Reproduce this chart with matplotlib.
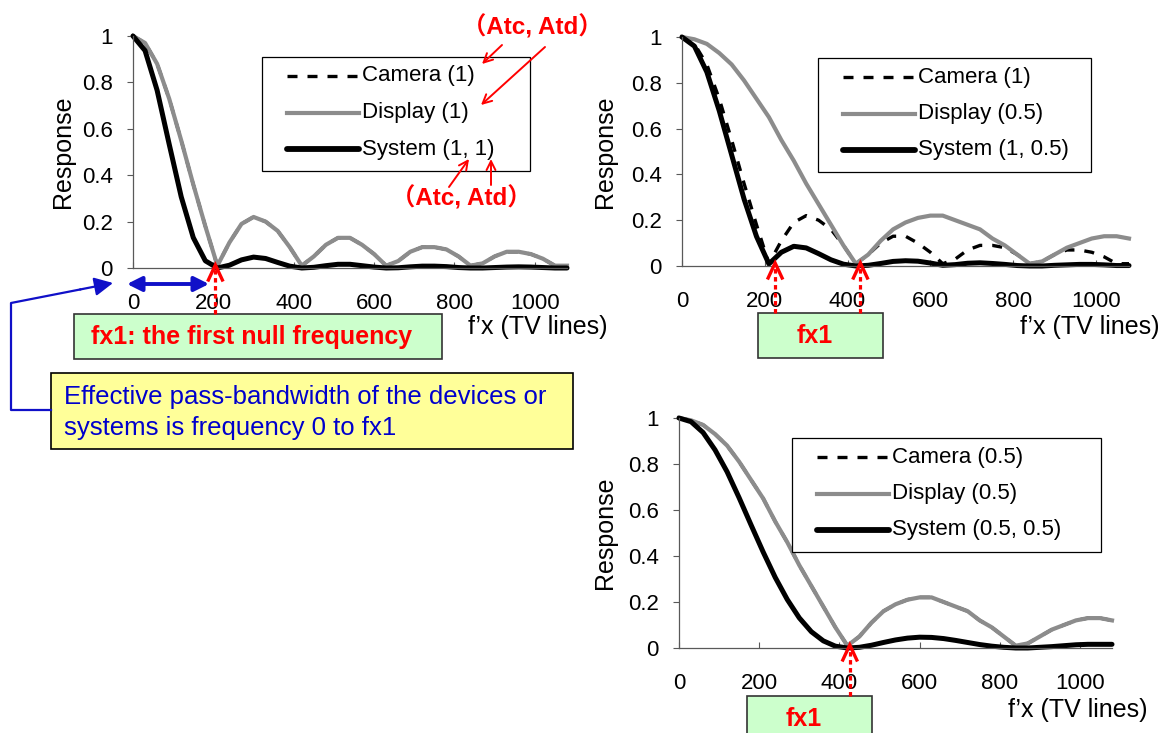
import matplotlib
matplotlib.use("Agg")
from matplotlib import pyplot as plt
from matplotlib.patches import Rectangle

W, H = 1163, 733

plt.rcParams['font.family'] = ['Liberation Sans', 'DejaVu Sans']

# spatial frequency f'x in TV lines
freq = list(range(0, 1081, 30))

# aperture 1 devices
camera_1 = [1.00, 0.97, 0.88, 0.73, 0.55, 0.36, 0.18, 0.01, 0.11, 0.19, 0.22, 0.20, 0.16,
            0.09, 0.01, 0.05, 0.10, 0.13, 0.13, 0.10, 0.06, 0.01, 0.03, 0.07, 0.09, 0.09,
            0.08, 0.05, 0.01, 0.02, 0.05, 0.07, 0.07, 0.06, 0.04, 0.01, 0.01]
display_1 = [1.00, 0.97, 0.88, 0.73, 0.55, 0.36, 0.18, 0.01, 0.11, 0.19, 0.22, 0.20, 0.16,
             0.09, 0.01, 0.05, 0.10, 0.13, 0.13, 0.10, 0.06, 0.01, 0.03, 0.07, 0.09, 0.09,
             0.08, 0.05, 0.01, 0.02, 0.05, 0.07, 0.07, 0.06, 0.04, 0.01, 0.01]
# aperture 0.5 devices
camera_05 = [1.00, 0.99, 0.97, 0.93, 0.88, 0.81, 0.73, 0.65, 0.55, 0.46, 0.36, 0.27, 0.18,
             0.09, 0.01, 0.05, 0.11, 0.16, 0.19, 0.21, 0.22, 0.22, 0.20, 0.18, 0.16, 0.12,
             0.09, 0.05, 0.01, 0.02, 0.05, 0.08, 0.10, 0.12, 0.13, 0.13, 0.12]
display_05 = [1.00, 0.99, 0.97, 0.93, 0.88, 0.81, 0.73, 0.65, 0.55, 0.46, 0.36, 0.27, 0.18,
              0.09, 0.01, 0.05, 0.11, 0.16, 0.19, 0.21, 0.22, 0.22, 0.20, 0.18, 0.16, 0.12,
              0.09, 0.05, 0.01, 0.02, 0.05, 0.08, 0.10, 0.12, 0.13, 0.13, 0.12]
# camera x display
system_1_1 = [1.000, 0.937, 0.766, 0.534, 0.307, 0.131, 0.031, 0.000, 0.012, 0.035, 0.047,
              0.041, 0.024, 0.008, 0.000, 0.003, 0.010, 0.016, 0.016, 0.010, 0.004, 0.000,
              0.001, 0.005, 0.008, 0.008, 0.006, 0.002, 0.000, 0.000, 0.002, 0.004, 0.005,
              0.004, 0.002, 0.000, 0.000]
system_1_05 = [1.000, 0.960, 0.847, 0.678, 0.485, 0.292, 0.129, 0.009, 0.060, 0.086, 0.079,
               0.054, 0.027, 0.008, 0.000, 0.003, 0.011, 0.020, 0.023, 0.021, 0.013, 0.003,
               0.006, 0.012, 0.014, 0.011, 0.007, 0.002, 0.000, 0.000, 0.003, 0.005, 0.007,
               0.007, 0.005, 0.002, 0.002]
system_05_05 = [1.000, 0.984, 0.937, 0.861, 0.766, 0.653, 0.534, 0.417, 0.307, 0.211, 0.131,
                0.071, 0.031, 0.008, 0.000, 0.003, 0.012, 0.024, 0.035, 0.043, 0.047, 0.046,
                0.041, 0.033, 0.024, 0.015, 0.008, 0.003, 0.000, 0.000, 0.003, 0.006, 0.010,
                0.014, 0.016, 0.016, 0.016]

xticks = [0, 200, 400, 600, 800, 1000]
yticks = [0, 0.2, 0.4, 0.6, 0.8, 1]
ytick_labels = ['0', '0.2', '0.4', '0.6', '0.8', '1']

RED = '#ff0000'
BLUE = '#1010c8'
GRAY = '#8c8c8c'

STYLE = {
    'camera': dict(color='black', lw=2.4, linestyle=(0, (3, 3))),
    'display': dict(color=GRAY, lw=3.0, linestyle='-'),
    'system': dict(color='black', lw=3.6, linestyle='-', solid_capstyle='round'),
}

# rect = (left, top, right, bottom) in pixels, key = legend box, nulls = fx1 marks
panels = [
    dict(rect=(133, 36, 567, 268),
         curves=[('camera', camera_1, 'Camera (1)'),
                 ('display', display_1, 'Display (1)'),
                 ('system', system_1_1, 'System (1, 1)')],
         key=(262, 57, 530, 171), nulls=[205], marker_base=314,
         tag=(74, 314, 442, 359, 'fx1: the first null frequency'),
         xtitle=(607, 327), ytitle=(63, 152)),
    dict(rect=(682, 37, 1129, 266),
         curves=[('camera', camera_1, 'Camera (1)'),
                 ('display', display_05, 'Display (0.5)'),
                 ('system', system_1_05, 'System (1, 0.5)')],
         key=(818, 58, 1091, 172), nulls=[225, 431], marker_base=313,
         tag=(758, 313, 883, 358, 'fx1'),
         xtitle=(1160, 327), ytitle=(605, 152)),
    dict(rect=(679, 418, 1112, 648),
         curves=[('camera', camera_05, 'Camera (0.5)'),
                 ('display', display_05, 'Display (0.5)'),
                 ('system', system_05_05, 'System (0.5, 0.5)')],
         key=(792, 438, 1101, 552), nulls=[426], marker_base=696,
         tag=(747, 696, 872, 745, 'fx1'),
         xtitle=(1147, 710), ytitle=(605, 533)),
]

fig = plt.figure(figsize=(W / 100, H / 100), dpi=100)

# pixel overlay for notes, keys and boxes
ov = fig.add_axes([0, 0, 1, 1])
ov.set_xlim(0, W)
ov.set_ylim(H, 0)
ov.axis('off')
ov.set_zorder(10)


def red_marker(x, tip, base):
    ov.plot([x, x], [base, tip + 4], color=RED, lw=2.3, linestyle=(0, (1.4, 1.1)))
    ov.plot([x - 7, x, x + 7], [tip + 15, tip, tip + 15], color=RED, lw=2.4,
            solid_joinstyle='miter')


for p in panels:
    x0, y0, x1, y1 = p['rect']
    ax = fig.add_axes([x0 / W, 1 - y1 / H, (x1 - x0) / W, (y1 - y0) / H])
    for kind, vals, label in p['curves']:
        ax.plot(freq, vals, clip_on=False, **STYLE[kind])
    ax.set_xlim(0, 1080)
    ax.set_ylim(0, 1)
    for side in ['top', 'right']:
        ax.spines[side].set_visible(False)
    for side in ['left', 'bottom']:
        ax.spines[side].set_color('#595959')
        ax.spines[side].set_linewidth(0.9)
    ax.set_xticks(xticks)
    ax.set_yticks(yticks)
    ax.set_yticklabels(ytick_labels)
    ax.tick_params(axis='x', direction='in', length=4, width=0.8, color='#595959',
                   pad=18, labelsize=16)
    ax.tick_params(axis='y', direction='out', length=4.5, width=0.8, color='#595959',
                   pad=10, labelsize=16)
    ax.patch.set_alpha(0)

    ov.text(p['xtitle'][0], p['xtitle'][1], 'f\u2019x (TV lines)', ha='right',
            va='center', fontsize=18)
    ov.text(p['ytitle'][0], p['ytitle'][1], 'Response', rotation=90, ha='center',
            va='center', fontsize=18)

    # key box
    kx0, ky0, kx1, ky1 = p['key']
    ov.add_patch(Rectangle((kx0, ky0), kx1 - kx0, ky1 - ky0, facecolor='white',
                           edgecolor='black', lw=0.9))
    for i, (kind, vals, label) in enumerate(p['curves']):
        ry = ky0 + 19 + 36.5 * i
        st = dict(STYLE[kind])
        if kind == 'system':
            st['lw'] = 4.2
        ov.plot([kx0 + 25, kx0 + 97], [ry, ry], **st)
        ov.text(kx0 + 100, ry, label, ha='left', va='center', fontsize=16)

    # first null markers
    tip = y1 - 3
    for fx in p['nulls']:
        xd = ax.transData.transform((fx, 0))[0]
        red_marker(xd, tip, p['marker_base'])

    gx0, gy0, gx1, gy1, gtext = p['tag']
    ov.add_patch(Rectangle((gx0, gy0), gx1 - gx0, gy1 - gy0, facecolor='#ccffcc',
                           edgecolor='#333333', lw=1.2, clip_on=False))
    ov.text((gx0 + gx1) / 2 - 6, gy0 + 23, gtext, ha='center', va='center',
            color=RED, fontweight='bold', fontsize=18)

# pass band notes
ov.add_patch(Rectangle((51, 373), 522, 76, facecolor='#ffff99', edgecolor='black', lw=1.2))
ov.text(64, 397, 'Effective pass-bandwidth of the devices or', ha='left', va='center',
        color='#0000cc', fontsize=18.5)
ov.text(64, 428, 'systems is frequency 0 to fx1', ha='left', va='center',
        color='#0000cc', fontsize=18.5)
ov.plot([51, 11, 11, 80], [410, 410, 303, 289.5], color=BLUE, lw=1.6)
ov.annotate('', xy=(113, 283), xytext=(80, 289.5),
            arrowprops=dict(arrowstyle='-|>', color=BLUE, lw=1.6, mutation_scale=28,
                            shrinkA=0, shrinkB=0))
ov.annotate('', xy=(209, 284), xytext=(127, 284),
            arrowprops=dict(arrowstyle='<|-|>', color=BLUE, lw=2.8, mutation_scale=22,
                            shrinkA=0, shrinkB=0))

# aperture notes
cjk = ['Liberation Sans', 'Noto Sans CJK JP']
ov.text(532, 27, '\uff08Atc, Atd\uff09', ha='center', va='center', color=RED,
        fontweight='bold', fontsize=17.5, family=cjk)
ov.text(461, 198, '\uff08Atc, Atd\uff09', ha='center', va='center', color=RED,
        fontweight='bold', fontsize=17.5, family=cjk)
red_arrow = dict(arrowstyle='->', color=RED, lw=1.4, mutation_scale=16, shrinkA=0, shrinkB=0)
ov.annotate('', xy=(482, 64), xytext=(502, 45), arrowprops=red_arrow)
ov.annotate('', xy=(481, 105), xytext=(545, 47), arrowprops=red_arrow)
ov.annotate('', xy=(469, 159), xytext=(449, 187), arrowprops=red_arrow)
ov.annotate('', xy=(491, 159), xytext=(491, 185), arrowprops=red_arrow)

fig.savefig('out.png', dpi=100)
